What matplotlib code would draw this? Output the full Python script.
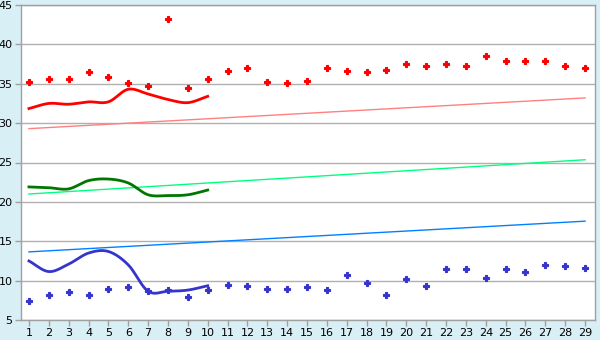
import numpy as np
import matplotlib
matplotlib.use('Agg')
import matplotlib.pyplot as plt

days = list(range(1, 30))

# scattered readings
red_points = [35.2, 35.55, 35.55, 36.45, 35.9, 35.05, 34.7, 43.2, 34.4, 35.55,
              36.6, 36.95, 35.2, 35.05, 35.3, 36.95, 36.6, 36.45, 36.8, 37.45,
              37.2, 37.45, 37.2, 38.5, 37.95, 37.85, 37.95, 37.2, 36.95]
blue_points = [7.4, 8.2, 8.55, 8.2, 8.95, 9.2, 8.7, 8.75, 7.95, 8.8,
               9.45, 9.3, 8.95, 8.95, 9.2, 8.8, 10.7, 9.7, 8.2, 10.2,
               9.3, 11.5, 11.5, 10.35, 11.5, 11.1, 12.0, 11.85, 11.6]

# smoothed curves for the first ten days
curve_days = list(range(1, 11))
red_curve = [31.85, 32.5, 32.4, 32.7, 32.7, 34.3, 33.7, 33.0, 32.6, 33.4]
green_curve = [21.9, 21.8, 21.65, 22.7, 22.9, 22.4, 20.9, 20.8, 20.9, 21.5]
blue_curve = [12.5, 11.15, 12.1, 13.5, 13.7, 12.0, 8.65, 8.65, 8.8, 9.35]

# trend lines (value at day 1 and day 29)
trend_days = [1, 29]
red_trend = [29.3, 33.2]
green_trend = [21.0, 25.35]
blue_trend = [13.65, 17.55]


def smooth(xs, ys, n=20):
  # catmull-rom spline through the points, only for drawing
  xs = np.asarray(xs, float)
  ys = np.asarray(ys, float)
  px = np.concatenate([[2 * xs[0] - xs[1]], xs, [2 * xs[-1] - xs[-2]]])
  py = np.concatenate([[2 * ys[0] - ys[1]], ys, [2 * ys[-1] - ys[-2]]])
  out_x, out_y = [], []
  t = np.linspace(0, 1, n, endpoint=False)
  for i in range(1, len(px) - 2):
    for p, out in ((px, out_x), (py, out_y)):
      p0, p1, p2, p3 = p[i - 1], p[i], p[i + 1], p[i + 2]
      out.extend(0.5 * (2 * p1 + (-p0 + p2) * t + (2 * p0 - 5 * p1 + 4 * p2 - p3) * t ** 2
                        + (-p0 + 3 * p1 - 3 * p2 + p3) * t ** 3))
  out_x.append(xs[-1])
  out_y.append(ys[-1])
  return out_x, out_y


bg = '#d9eff6'
fig = plt.figure(figsize=(6, 3.4), dpi=100, facecolor=bg)
ax = fig.add_axes([21 / 600, 20 / 340, 574 / 600, 315 / 340])
ax.set_facecolor('white')

ax.yaxis.grid(True, color='#b0b0b0', linewidth=1)
ax.set_axisbelow(True)

ax.plot(trend_days, red_trend, color='#ff8080', linewidth=1)
ax.plot(trend_days, green_trend, color='#00ff80', linewidth=1)
ax.plot(trend_days, blue_trend, color='#0080ff', linewidth=1)

ax.plot(*smooth(curve_days, red_curve), color='#ff0000', linewidth=2)
ax.plot(*smooth(curve_days, green_curve), color='#007700', linewidth=2)
ax.plot(*smooth(curve_days, blue_curve), color='#3535cc', linewidth=2)

ax.plot(days, red_points, linestyle='none', marker='P', markersize=3.8,
        markeredgewidth=0.8, color='#ff0000')
ax.plot(days, blue_points, linestyle='none', marker='P', markersize=3.8,
        markeredgewidth=0.8, color='#3535cc')

ax.set_xlim(0.6, 29.5)
ax.set_ylim(5, 45)
ax.set_xticks(days)
ax.set_yticks(range(5, 46, 5))
ax.tick_params(axis='both', labelsize=8, color='#a0a0a0', length=4, width=1, pad=2)
for s in ax.spines.values():
  s.set_color('#a0a0a0')
  s.set_linewidth(1)

fig.savefig('out.png', dpi=100, facecolor=bg)
